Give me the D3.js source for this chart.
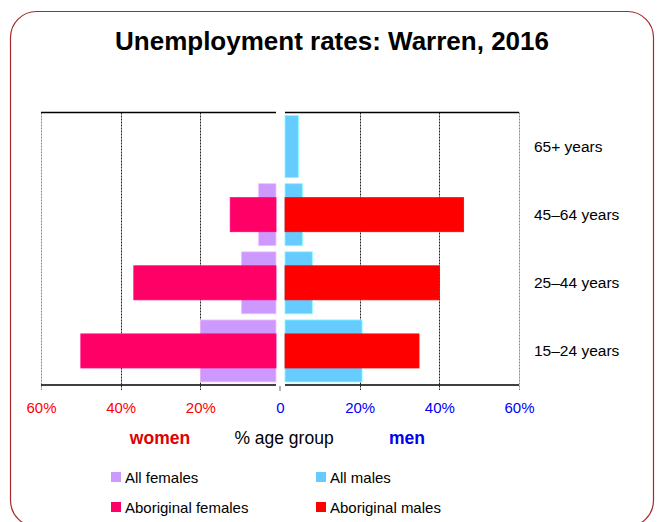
<!DOCTYPE html>
<html>
<head>
<meta charset="utf-8">
<script src="https://cdn.jsdelivr.net/npm/d3@7"></script>
<style>
  body { margin: 0; background: #fff; }
  svg { display: block; font-family: "Liberation Sans", Arial, sans-serif; }
</style>
</head>
<body>
<svg width="660" height="522"></svg>
<script>
const categories = ["65+ years", "45–64 years", "25–44 years", "15–24 years"];
const allFemales = [null, 5.4, 9.7, 20.0];
const aboriginalFemales = [null, 12.5, 36.7, 50.0];
const allMales = [4.6, 5.6, 8.1, 20.6];
const aboriginalMales = [null, 46.1, 40.0, 34.9];
const tickValues = [0, 20, 40, 60];

const colors = {
  allF: "#cc99ff",
  abF: "#ff0066",
  allM: "#66ccff",
  abM: "#ff0000"
};

const svg = d3.select("svg");

// frame
svg.append("rect")
  .attr("x", 10.5).attr("y", 11.5)
  .attr("width", 643).attr("height", 515)
  .attr("rx", 26)
  .attr("fill", "none")
  .attr("stroke", "#a52a2a")
  .attr("stroke-width", 1.2);

svg.append("text")
  .attr("x", 332).attr("y", 50)
  .attr("text-anchor", "middle")
  .attr("font-size", 26)
  .attr("font-weight", "bold")
  .text("Unemployment rates: Warren, 2016");

const plotTop = 112.5, plotBottom = 385;
const gapL = 276, gapR = 285;

const xL = d3.scaleLinear().domain([0, 60]).range([280, 41]);
const xR = d3.scaleLinear().domain([0, 60]).range([280, 519]);
const y = d3.scaleBand().domain(categories).range([plotTop, plotBottom]);
const bw = y.bandwidth();

// grid lines
const grid = svg.append("g");
[xL, xR].forEach(sc => {
  grid.selectAll(null)
    .data(tickValues.filter(d => d > 0))
    .enter().append("line")
    .attr("x1", d => Math.round(sc(d)) + 0.5)
    .attr("x2", d => Math.round(sc(d)) + 0.5)
    .attr("y1", plotTop).attr("y2", plotBottom + 5)
    .attr("stroke", d => d === 60 ? "#888" : "#222")
    .attr("stroke-dasharray", "2,1");
});

// zero tick
svg.append("line")
  .attr("x1", xL(0)).attr("x2", xL(0))
  .attr("y1", plotBottom + 1).attr("y2", plotBottom + 6)
  .attr("stroke", "#999").attr("stroke-width", 1.5);

// bars
const idx = d3.range(categories.length);
function bars(values, side, inset, color) {
  svg.append("g").selectAll("rect")
    .data(idx.filter(i => values[i] != null))
    .enter().append("rect")
    .attr("x", i => side === "L" ? xL(values[i]) : gapR)
    .attr("width", i => side === "L" ? Math.max(0, gapL - xL(values[i])) : Math.max(0, xR(values[i]) - gapR))
    .attr("y", i => y(categories[i]) + bw * inset)
    .attr("height", bw * (1 - 2 * inset))
    .attr("fill", color)
    .attr("stroke", d3.color(color).brighter(0.6))
    .attr("stroke-width", 0.8);
}
bars(allFemales, "L", 0.045, colors.allF);
bars(allMales, "R", 0.045, colors.allM);
bars(aboriginalFemales, "L", 0.25, colors.abF);
bars(aboriginalMales, "R", 0.25, colors.abM);

// top and bottom lines
[plotTop, plotBottom].forEach(yy => {
  svg.append("line").attr("x1", 41).attr("x2", gapL)
    .attr("y1", yy).attr("y2", yy).attr("stroke", "#000").attr("stroke-width", 1.3);
  svg.append("line").attr("x1", gapR).attr("x2", 519)
    .attr("y1", yy).attr("y2", yy).attr("stroke", "#000").attr("stroke-width", 1.3);
});

// axes labels
const axL = d3.axisBottom(xL).tickValues([20, 40, 60]).tickSize(0).tickPadding(0)
  .tickFormat(d => d + "%");
const axR = d3.axisBottom(xR).tickValues(tickValues).tickSize(0).tickPadding(0)
  .tickFormat(d => d === 0 ? "0" : d + "%");
[[axL, "#ff0000"], [axR, "#0000ff"]].forEach(([ax, c]) => {
  const g = svg.append("g").attr("transform", `translate(0,${plotBottom + 17})`).call(ax);
  g.select(".domain").remove();
  g.selectAll("text")
    .attr("font-size", 15)
    .attr("font-family", "Liberation Sans, Arial, sans-serif")
    .attr("fill", c);
});

// category labels
svg.append("g").selectAll("text")
  .data(categories)
  .enter().append("text")
  .attr("x", 534)
  .attr("y", d => y(d) + bw / 2 + 5.5)
  .attr("font-size", 15.5)
  .text(d => d);

// axis titles
svg.append("text").attr("x", 160).attr("y", 444).attr("text-anchor", "middle")
  .attr("font-size", 17.5).attr("font-weight", "bold").attr("fill", "#e00000").text("women");
svg.append("text").attr("x", 284).attr("y", 444).attr("text-anchor", "middle")
  .attr("font-size", 17.5).attr("fill", "#000").text("% age group");
svg.append("text").attr("x", 407).attr("y", 444).attr("text-anchor", "middle")
  .attr("font-size", 17.5).attr("font-weight", "bold").attr("fill", "#0000ee").text("men");

// legend
const legendItems = ["All females", "All males", "Aboriginal females", "Aboriginal males"];
const legendColors = [colors.allF, colors.allM, colors.abF, colors.abM];
const lg = svg.append("g").selectAll("g")
  .data(legendItems)
  .enter().append("g")
  .attr("transform", (d, i) => `translate(${i % 2 === 0 ? 111 : 316},${i < 2 ? 477 : 507})`);
lg.append("rect").attr("x", 0).attr("y", -5).attr("width", 10).attr("height", 10)
  .attr("fill", (d, i) => legendColors[i]);
lg.append("text").attr("x", 14).attr("y", 5.5).attr("font-size", 15).text(d => d);
</script>
</body>
</html>
